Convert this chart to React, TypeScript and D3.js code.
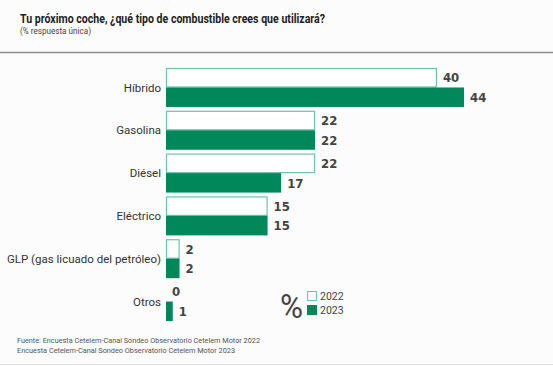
import React, { useEffect, useRef } from "react";
import * as d3 from "d3";

const categories = ["Híbrido", "Gasolina", "Diésel", "Eléctrico", "GLP (gas licuado del petróleo)", "Otros"];
const values2022 = [40, 22, 22, 15, 2, 0];
const values2023 = [44, 22, 17, 15, 2, 1];
const years = ["2022", "2023"];

const W = 553;
const H = 366;
const FONT = "Roboto, 'DejaVu Sans', sans-serif";
const NUMFONT = "'DejaVu Sans Condensed', 'DejaVu Sans', sans-serif";
const GREEN = "#00875a";
const OUTLINE = "#6cc4aa";

const App = () => {
  const svgRef = useRef<SVGSVGElement>(null);

  useEffect(() => {
    const svg = d3.select(svgRef.current);
    svg.selectAll("*").remove();

    svg.append("rect").attr("width", W).attr("height", H).attr("fill", "#fcfcfc");

    // header
    svg.append("text").attr("x", 20).attr("y", 23)
      .style("font", `bold 13px ${FONT}`).attr("fill", "#222")
      .attr("textLength", 305).attr("lengthAdjust", "spacingAndGlyphs")
      .text("Tu próximo coche, ¿qué tipo de combustible crees que utilizará?");
    svg.append("text").attr("x", 20).attr("y", 34)
      .style("font", `8.5px ${FONT}`).attr("fill", "#444")
      .attr("textLength", 71).attr("lengthAdjust", "spacingAndGlyphs")
      .text("(% respuesta única)");
    svg.append("line").attr("x1", 0).attr("x2", W).attr("y1", 52.5).attr("y2", 52.5)
      .attr("stroke", "#8a8a8a").attr("stroke-width", 1.5);

    const x = d3.scaleLinear().domain([0, 44]).range([166, 464]);
    const y = d3.scaleBand().domain(categories).range([68, 321]).paddingInner(0.09).paddingOuter(0);
    const half = y.bandwidth() / 2;

    const g = svg.append("g");
    const rows = g.selectAll("g.row").data(categories).join("g")
      .attr("transform", (d) => `translate(0,${y(d)})`);

    rows.append("text")
      .attr("x", 161).attr("y", half).attr("dy", "0.35em").attr("text-anchor", "end")
      .style("font", `11.5px ${FONT}`).attr("fill", "#333")
      .text((d) => d);

    rows.append("rect")
      .attr("x", x(0) + 0.5).attr("y", 0.5)
      .attr("width", (d, i) => Math.max(0, x(values2022[i]) - x(0) - 1))
      .attr("height", half - 1)
      .attr("fill", "#fff").attr("stroke", OUTLINE).attr("stroke-width", 1.2)
      .attr("display", (d, i) => (values2022[i] > 0 ? null : "none"));

    rows.append("rect")
      .attr("x", x(0)).attr("y", half)
      .attr("width", (d, i) => x(values2023[i]) - x(0))
      .attr("height", half)
      .attr("fill", GREEN);

    rows.append("text")
      .attr("x", (d, i) => x(values2022[i]) + 6).attr("y", half / 2).attr("dy", "0.36em")
      .style("font", `bold 13px ${NUMFONT}`).attr("fill", "#444")
      .text((d, i) => values2022[i]);
    rows.append("text")
      .attr("x", (d, i) => x(values2023[i]) + 6).attr("y", half * 1.5).attr("dy", "0.36em")
      .style("font", `bold 13px ${NUMFONT}`).attr("fill", "#444")
      .text((d, i) => values2023[i]);

    // legend
    svg.append("text").attr("x", 280).attr("y", 318)
      .style("font", `34px ${FONT}`).attr("fill", "#444")
      .attr("textLength", 23).attr("lengthAdjust", "spacingAndGlyphs").text("%");
    const leg = svg.append("g").attr("transform", "translate(307,291)");
    years.forEach((yr, i) => {
      leg.append("rect").attr("x", 0.5).attr("y", i * 14 + 0.5).attr("width", 9).attr("height", 9)
        .attr("fill", i === 0 ? "#fff" : GREEN).attr("stroke", i === 0 ? OUTLINE : GREEN);
      leg.append("text").attr("x", 13).attr("y", i * 14 + 5).attr("dy", "0.35em")
        .style("font", `10.5px ${FONT}`).attr("fill", "#444").text(yr);
    });

    // footer
    svg.append("text").attr("x", 17).attr("y", 343)
      .style("font", `8px ${FONT}`).attr("fill", "#555")
      .attr("textLength", 243).attr("lengthAdjust", "spacingAndGlyphs")
      .text("Fuente: Encuesta Cetelem-Canal Sondeo Observatorio Cetelem Motor 2022");
    svg.append("text").attr("x", 17).attr("y", 353)
      .style("font", `8px ${FONT}`).attr("fill", "#555")
      .attr("textLength", 218).attr("lengthAdjust", "spacingAndGlyphs")
      .text("Encuesta Cetelem-Canal Sondeo Observatorio Cetelem Motor 2023");
    svg.append("line").attr("x1", 0).attr("x2", W).attr("y1", 364.5).attr("y2", 364.5)
      .attr("stroke", "#e2e2e2");
  }, []);

  return (
    <svg ref={svgRef} width={W} height={H}
      style={{ position: "absolute", top: 0, left: 0, display: "block" }} />
  );
};

export default App;
